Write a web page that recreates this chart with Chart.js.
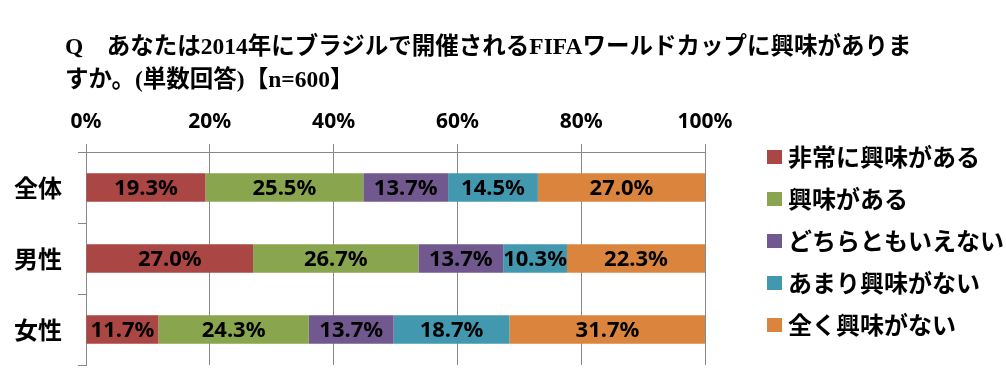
<!DOCTYPE html>
<html>
<head>
<meta charset="utf-8">
<script src="https://cdn.jsdelivr.net/npm/chart.js@4/dist/chart.umd.min.js"></script>
<style>
  body { margin: 0; background: #fff; }
  #wrap { position: relative; width: 1006px; height: 369px; }
  #title {
    position: absolute; left: 65px; top: 30px;
    font-family: "Liberation Serif", "Noto Sans CJK JP", serif;
    font-weight: bold; font-size: 23.5px; line-height: 33px; color: #000;
    white-space: nowrap;
  }
</style>
</head>
<body>
<div id="wrap">
  <canvas id="chart" width="1006" height="369"></canvas>
  <div id="title">Q　あなたは2014年にブラジルで開催されるFIFAワールドカップに興味がありま<br>すか。(単数回答)【n=600】</div>
</div>
<script>
// ================= data =================
const groups = ['全体', '男性', '女性'];
const answers = ['非常に興味がある', '興味がある', 'どちらともいえない', 'あまり興味がない', '全く興味がない'];
const veryInterested = [19.3, 27.0, 11.7];
const interested = [25.5, 26.7, 24.3];
const neutral = [13.7, 13.7, 13.7];
const notMuch = [14.5, 10.3, 18.7];
const notAtAll = [27.0, 22.3, 31.7];
const xTicks = [0, 20, 40, 60, 80, 100];
const colors = ['#AA4643', '#89A54E', '#71588F', '#4198AF', '#DB843D'];

const series = [veryInterested, interested, neutral, notMuch, notAtAll];

// labels inside each segment
const barLabels = {
    id: 'barLabels',
    afterDatasetsDraw(chart) {
        const c = chart.ctx;
        c.save();
        c.font = 'bold 22px "Noto Sans", sans-serif';
        c.fillStyle = '#000';
        c.textAlign = 'center';
        c.textBaseline = 'middle';
        chart.data.datasets.forEach((ds, i) => {
            chart.getDatasetMeta(i).data.forEach((bar, j) => {
                const cx = (bar.x + bar.base) / 2;
                c.fillText(ds.data[j].toFixed(1) + '%', cx, bar.y + 1);
            });
        });
        c.restore();
    }
};

// legend on the right
const sideLegend = {
    id: 'sideLegend',
    afterDraw(chart) {
        const c = chart.ctx;
        c.save();
        c.font = 'bold 24px "Noto Sans CJK JP", sans-serif';
        c.textBaseline = 'middle';
        c.textAlign = 'left';
        chart.data.datasets.forEach((ds, i) => {
            const y = 157 + i * 42;
            c.fillStyle = ds.backgroundColor;
            c.fillRect(767, y - 7, 15, 14);
            c.fillStyle = '#000';
            c.fillText(ds.label, 788, y);
        });
        c.restore();
    }
};

const ctx = document.getElementById('chart').getContext('2d');
const chart = new Chart(ctx, {
    type: 'bar',
    data: {
        labels: groups,
        datasets: answers.map((a, i) => ({
            label: a,
            data: series[i],
            backgroundColor: colors[i],
            borderWidth: 0,
            barPercentage: 0.4,
            categoryPercentage: 1
        }))
    },
    options: {
        indexAxis: 'y',
        responsive: false,
        animation: false,
        layout: { padding: { left: 0, right: 301, top: 0, bottom: 4 } },
        plugins: { legend: { display: false }, tooltip: { enabled: false } },
        scales: {
            x: {
                position: 'top',
                stacked: true,
                min: 0,
                max: 100,
                afterBuildTicks: s => { s.ticks = xTicks.map(v => ({ value: v })); },
                afterFit: s => { s.height = 152; },
                ticks: {
                    callback: v => v + '%',
                    color: '#000',
                    padding: 9,
                    font: { family: '"Noto Sans", sans-serif', size: 21, weight: 'bold' }
                },
                grid: { color: '#888', tickLength: 8 },
                border: { color: '#888' }
            },
            y: {
                stacked: true,
                afterFit: s => { s.width = 86; s.paddingTop = 0; s.paddingBottom = 0; },
                ticks: {
                    color: '#000',
                    padding: 16,
                    font: { family: '"Noto Sans CJK JP", sans-serif', size: 24, weight: 'bold' }
                },
                grid: { drawOnChartArea: false, offset: true, color: '#888', tickLength: 8 },
                border: { color: '#888' }
            }
        }
    },
    plugins: [barLabels, sideLegend]
});
</script>
</body>
</html>
